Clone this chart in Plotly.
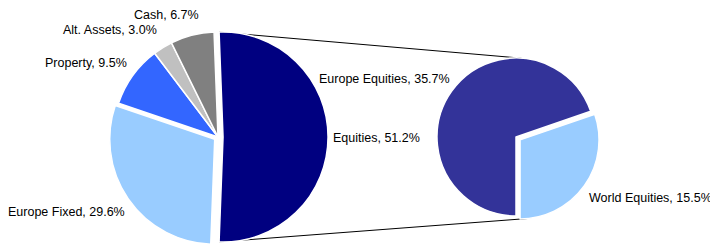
import math
import plotly.graph_objects as go

# ---- data ----
main_labels = ["Equities", "Europe Fixed", "Property", "Alt. Assets", "Cash"]
main_values = [51.2, 29.6, 9.5, 3.0, 6.7]
sub_labels = ["Europe Equities", "World Equities"]
sub_values = [35.7, 15.5]

main_colors = ["#000080", "#99CCFF", "#3366FF", "#C0C0C0", "#808080"]
sub_colors = ["#333399", "#99CCFF"]

# ---- layout geometry (page pixels) ----
W, H = 718, 246
OFF = 8  # page body margin in the browser

cx1, cy1, r1 = 218, 137, 105
pull1 = [0.048, 0.038, 0, 0, 0]
cx2, cy2, r2 = 516, 137, 79
pull2 = [0, 0.063]

# label boxes: (x, y, anchor) in page pixels
main_label_pos = [(332, 138, "left"), (126, 212, "right"), (128, 63, "right"),
                  (158, 30, "right"), (200, 15, "right")]
sub_label_pos = [(451, 79, "right"), (588, 198, "left")]


def fx(x):
    return (x - OFF) / W


def fy(y):
    return 1 - (y - OFF) / H


def dom(cx, cy, r, pulls):
    half = r * (1 + max(pulls))
    return dict(x=[fx(cx - half), fx(cx + half)], y=[fy(cy + half), fy(cy - half)])


tot1 = sum(main_values)
rot1 = 90 - 360 * main_values[0] / tot1 / 2
rot2 = 180

font = dict(family="Arial, Liberation Sans, sans-serif", size=12.5, color="#000000")

fig = go.Figure()
fig.add_trace(go.Pie(
    labels=main_labels, values=main_values, sort=False, direction="clockwise",
    rotation=rot1, pull=pull1, domain=dom(cx1, cy1, r1, pull1),
    marker=dict(colors=main_colors, line=dict(color="white", width=1.5)),
    textinfo="none", showlegend=False, hoverinfo="label+value",
))
fig.add_trace(go.Pie(
    labels=sub_labels, values=sub_values, sort=False, direction="clockwise",
    rotation=rot2, pull=pull2, domain=dom(cx2, cy2, r2, pull2),
    marker=dict(colors=sub_colors, line=dict(color="white", width=1.5)),
    textinfo="none", showlegend=False, hoverinfo="label+value",
))

annotations = []
for labs, vals, poss in [(main_labels, main_values, main_label_pos),
                         (sub_labels, sub_values, sub_label_pos)]:
    for lab, val, (x, y, anc) in zip(labs, vals, poss):
        annotations.append(dict(
            text=f"{lab}, {val:.1f}%", x=fx(x), y=fy(y), xref="paper", yref="paper",
            xanchor=anc, yanchor="middle", showarrow=False, font=font, borderpad=0,
        ))


# connector lines derived from pie geometry
def pt(cx, cy, r, ang):
    a = math.radians(ang)
    return cx + r * math.sin(a), cy - r * math.cos(a)


eq_span = 360 * main_values[0] / tot1
mid_eq = rot1 + eq_span / 2
pcx = cx1 + pull1[0] * r1 * math.sin(math.radians(mid_eq))
pcy = cy1 - pull1[0] * r1 * math.cos(math.radians(mid_eq))
top_l = pt(pcx, pcy, r1, rot1)
bot_l = pt(pcx, pcy, r1, rot1 + eq_span)

tot2 = sum(sub_values)
w_start = rot2 + 360 * sub_values[0] / tot2
w_mid = w_start + 360 * sub_values[1] / tot2 / 2
wcx = cx2 + pull2[1] * r2 * math.sin(math.radians(w_mid))
wcy = cy2 - pull2[1] * r2 * math.cos(math.radians(w_mid))
top_r = pt(cx2, cy2, r2, 4)
bot_r = pt(wcx, wcy, r2, 174)

shapes = []
for (x0, y0), (x1, y1) in [(top_l, top_r), (bot_l, bot_r)]:
    shapes.append(dict(type="line", xref="paper", yref="paper",
                       x0=fx(x0), y0=fy(y0), x1=fx(x1), y1=fy(y1),
                       line=dict(color="#000000", width=1), layer="below"))

fig.update_layout(
    width=W, height=H, margin=dict(l=0, r=0, t=0, b=0),
    paper_bgcolor="white", plot_bgcolor="white",
    shapes=shapes, annotations=annotations, showlegend=False,
)

fig.write_html("out.html")
